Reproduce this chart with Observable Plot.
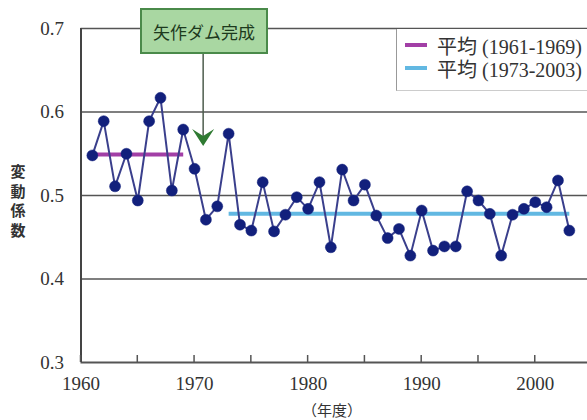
<!DOCTYPE html>
<html><head><meta charset="utf-8">
<script src="https://cdn.jsdelivr.net/npm/d3@7"></script>
<script src="https://cdn.jsdelivr.net/npm/@observablehq/plot@0.6"></script>
<style>
body{margin:0;background:#fff;}
#wrap{position:relative;width:587px;height:420px;overflow:hidden;background:#fff;}
#wrap svg{position:absolute;left:0;top:0;}
#wrap svg text{font-family:"Liberation Serif","Times New Roman",serif !important;}
.note{position:absolute;left:140px;top:8px;width:124px;height:42px;background:#a9d7a2;border:2px solid #4a8a4a;
  font:17px "Noto Sans CJK JP",sans-serif;color:#1d3a1d;display:flex;align-items:center;justify-content:center;}
.legend{position:absolute;left:396px;top:29px;width:200px;height:61px;background:#fff;border-left:1px solid #999;border-bottom:1px solid #ccc;}
.legend .row{position:absolute;left:8px;height:22px;display:flex;align-items:center;font:20px "Liberation Serif","Noto Sans CJK JP",serif;color:#333;white-space:nowrap;}
.legend .sw{display:inline-block;width:22px;height:4px;margin-right:10px;}
.ylab{position:absolute;left:9px;top:161px;width:18px;font:15px "Noto Sans CJK JP",sans-serif;font-weight:600;color:#333;line-height:19.5px;text-align:center;}
.xlab{position:absolute;left:302px;top:399px;font:15px "Noto Sans CJK JP",sans-serif;color:#333;}
</style></head><body><div id="wrap"></div>
<script>
const years = [1961,1962,1963,1964,1965,1966,1967,1968,1969,1970,1971,1972,1973,1974,1975,1976,1977,1978,1979,1980,1981,1982,1983,1984,1985,1986,1987,1988,1989,1990,1991,1992,1993,1994,1995,1996,1997,1998,1999,2000,2001,2002,2003];
const cv = [0.548,0.589,0.511,0.550,0.494,0.589,0.617,0.506,0.579,0.532,0.471,0.487,0.574,0.465,0.458,0.516,0.457,0.477,0.498,0.484,0.516,0.438,0.531,0.494,0.513,0.476,0.449,0.460,0.428,0.482,0.434,0.439,0.439,0.505,0.494,0.478,0.428,0.477,0.484,0.492,0.486,0.518,0.458];
const meanPeriods = [[1961,1969],[1973,2003]];
const meanValues = [0.549,0.478];
const meanLabels = ["平均 (1961-1969)","平均 (1973-2003)"];
const meanColors = ["#a23fa6","#62b8e2"];
const damYear = 1970.8;
const damLabel = "矢作ダム完成";
const yTicks = [0.3,0.4,0.5,0.6,0.7];
const gridValues = [0.4,0.5,0.6,0.7];
const xTicks = [1960,1970,1980,1990,2000];
const xMinorTicks = [1960,1965,1970,1975,1980,1985,1990,1995,2000];
const yAxisLabel = ["変","動","係","数"];
const xAxisLabel = "（年度）";

const data = years.map((y,i)=>({year:y, v:cv[i]}));
const means = meanPeriods.map((p,i)=>({x1:p[0], x2:p[1], v:meanValues[i], c:meanColors[i]}));

const plot = Plot.plot({
  width:587, height:420,
  marginLeft:80.5, marginRight:0, marginTop:28, marginBottom:58,
  x:{domain:[1960,2004.6]},
  y:{domain:[0.3,0.7]},
  style:{background:"transparent",fontFamily:"'Liberation Serif', serif",fontSize:"19px"},
  marks:[
    Plot.ruleY(gridValues,{stroke:"#555",strokeWidth:1.5}),
    Plot.ruleY([0.3],{stroke:"#555",strokeWidth:2}),
    Plot.ruleX([1960],{stroke:"#444",strokeWidth:2}),
    Plot.axisY(yTicks,{tickSize:0,tickPadding:17,tickFormat:d=>d.toFixed(1),fontSize:19,fill:"#333",label:null}),
    Plot.axisX(xTicks,{tickSize:0,tickPadding:14,tickFormat:d=>String(d),fontSize:19,fill:"#333",label:null}),
    Plot.link(means,{x1:"x1",x2:"x2",y1:"v",y2:"v",stroke:"c",strokeWidth:4}),
    Plot.line(data,{x:"year",y:"v",stroke:"#3a3f8c",strokeWidth:2}),
    Plot.dot(data,{x:"year",y:"v",r:5.5,fill:"#12207c",stroke:"#12207c",strokeWidth:0.5})
  ]
});
const wrap = document.getElementById("wrap");
wrap.appendChild(plot);

const sx = plot.scale("x"), sy = plot.scale("y");
const svg = d3.select(plot);
svg.selectAll("text").style("font-family","'Liberation Serif', serif");
svg.append("g").selectAll("line").data(xMinorTicks).join("line")
  .attr("x1",d=>sx.apply(d)).attr("x2",d=>sx.apply(d))
  .attr("y1",sy.apply(0.3)).attr("y2",sy.apply(0.3)-7)
  .attr("stroke","#555").attr("stroke-width",1.5);
const ax = sx.apply(damYear);
svg.append("line").attr("x1",ax).attr("x2",ax).attr("y1",52).attr("y2",138)
  .attr("stroke","#4d5d4d").attr("stroke-width",1.5);
svg.append("path").attr("d",`M${ax-11},${129} L${ax},${146} L${ax+11},${129} L${ax},${136} Z`)
  .attr("fill","#2f7a32");

const note = document.createElement("div");
note.className="note"; note.textContent=damLabel; wrap.appendChild(note);
const lg = document.createElement("div"); lg.className="legend";
meanLabels.forEach((t,i)=>{
  const r=document.createElement("div"); r.className="row"; r.style.top=(5+i*23)+"px";
  r.innerHTML=`<span class="sw" style="background:${meanColors[i]}"></span>${t}`;
  lg.appendChild(r);
});
wrap.appendChild(lg);
const yl=document.createElement("div"); yl.className="ylab"; yl.innerHTML=yAxisLabel.join("<br>"); wrap.appendChild(yl);
const xl=document.createElement("div"); xl.className="xlab"; xl.textContent=xAxisLabel; wrap.appendChild(xl);
</script></body></html>
